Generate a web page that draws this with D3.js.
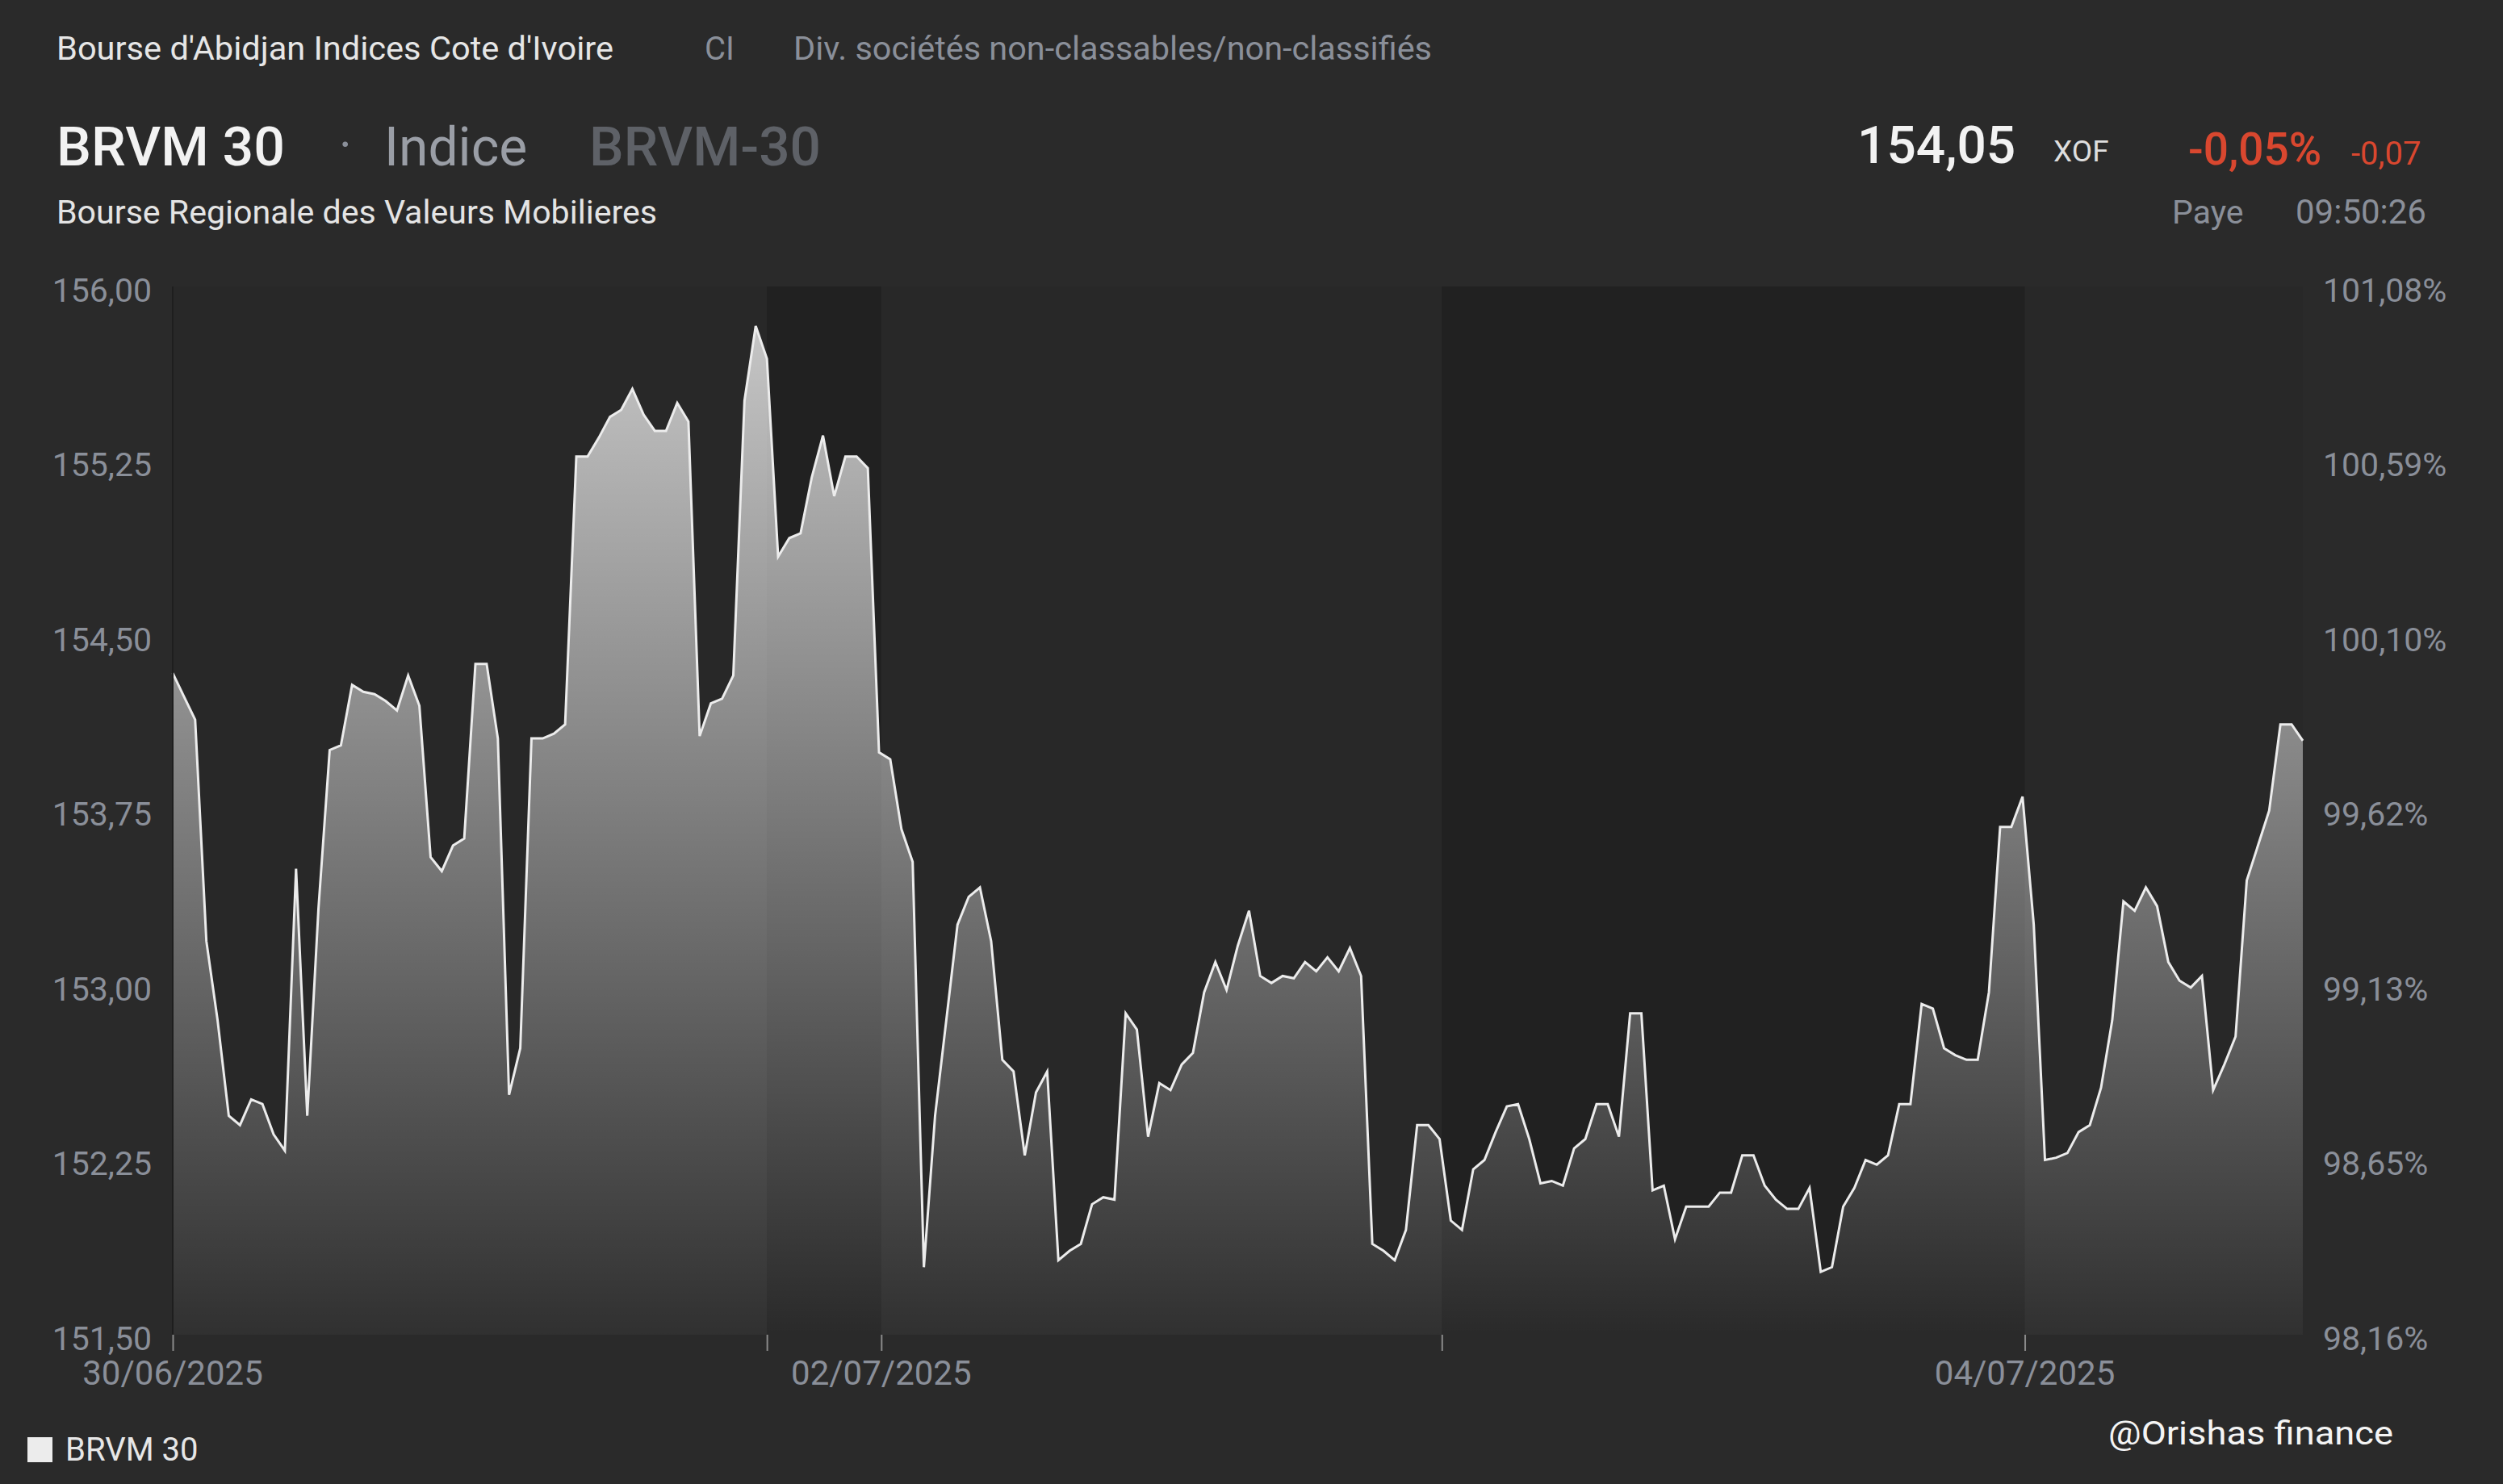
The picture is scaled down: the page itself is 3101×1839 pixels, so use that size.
<!DOCTYPE html>
<html>
<head>
<meta charset="utf-8">
<script src="https://cdn.jsdelivr.net/npm/d3@7"></script>
<style>
  html, body { margin: 0; padding: 0; background: #2a2a2a; }
  svg { display: block; }
  text { font-family: Roboto, "Noto Sans", sans-serif; }
</style>
</head>
<body>
<svg id="chart" width="3101" height="1839"></svg>
<script>
// BRVM 30 intraday closes, 30/06/2025 – 04/07/2025 (one value per sample)
const prices = [
  154.34,154.24,154.14,153.19,152.85,152.44,152.40,152.51,152.49,152.36,
  152.29,153.50,152.44,153.33,154.01,154.03,154.29,154.26,154.25,154.22,
  154.18,154.33,154.20,153.55,153.49,153.60,153.63,154.38,154.38,154.06,
  152.53,152.73,154.06,154.06,154.08,154.12,155.27,155.27,155.35,155.44,
  155.47,155.56,155.45,155.38,155.38,155.50,155.42,154.07,154.21,154.23,
  154.33,155.51,155.83,155.69,154.84,154.92,154.94,155.18,155.36,155.10,
  155.27,155.27,155.22,154.00,153.97,153.67,153.53,151.79,152.44,152.85,
  153.26,153.38,153.42,153.19,152.68,152.63,152.27,152.54,152.63,151.82,
  151.86,151.89,152.06,152.09,152.08,152.88,152.81,152.35,152.58,152.55,
  152.66,152.71,152.97,153.10,152.98,153.17,153.32,153.04,153.01,153.04,
  153.03,153.10,153.06,153.12,153.06,153.16,153.04,151.89,151.86,151.82,
  151.95,152.40,152.40,152.34,151.99,151.95,152.21,152.25,152.37,152.48,
  152.49,152.34,152.15,152.16,152.14,152.30,152.34,152.49,152.49,152.35,
  152.88,152.88,152.12,152.14,151.91,152.05,152.05,152.05,152.11,152.11,
  152.27,152.27,152.14,152.08,152.04,152.04,152.13,151.77,151.79,152.05,
  152.13,152.25,152.23,152.27,152.49,152.49,152.92,152.90,152.73,152.70,
  152.68,152.68,152.97,153.68,153.68,153.81,153.26,152.25,152.26,152.28,
  152.37,152.40,152.56,152.85,153.36,153.32,153.42,153.34,153.10,153.02,
  152.99,153.04,152.55,152.66,152.78,153.45,153.60,153.75,154.12,154.12,
  154.05
];

// Price axis
const priceTicks = [151.50, 152.25, 153.00, 153.75, 154.50, 155.25, 156.00];
const pctTickLabels = ["98,16%", "98,65%", "99,13%", "99,62%", "100,10%", "100,59%", "101,08%"];

// Time axis, expressed in sample positions
const timeTicks = [0, 53.0, 63.2, 113.2, 165.2];
const dateLabels = [
  { pos: 0, label: "30/06/2025" },
  { pos: 63.2, label: "02/07/2025" },
  { pos: 165.2, label: "04/07/2025" }
];
// Closed-market periods shaded on the plot
const closedPeriods = [[53.0, 63.2], [113.2, 165.2]];

// Header
const exchangeLine = "Bourse d'Abidjan Indices Cote d'Ivoire";
const countryCode = "CI";
const sectorName = "Div. sociétés non-classables/non-classifiés";
const instrumentName = "BRVM 30";
const instrumentType = "Indice";
const ticker = "BRVM-30";
const marketName = "Bourse Regionale des Valeurs Mobilieres";
const lastPrice = "154,05";
const currency = "XOF";
const changePct = "-0,05%";
const changeAbs = "-0,07";
const quoteSource = "Paye";
const quoteTime = "09:50:26";
const seriesName = "BRVM 30";
const credit = "@Orishas finance";

const svg = d3.select("#chart");
const W = 3101, H = 1839;
const plot = { left: 214, right: 2853, top: 355, bottom: 1654 };

svg.append("rect").attr("width", W).attr("height", H).attr("fill", "#2a2a2a");

const x = d3.scaleLinear().domain([0, prices.length - 1]).range([plot.left, plot.right]);
const y = d3.scaleLinear().domain([151.5, 156]).range([plot.bottom, plot.top]);

// plot background
svg.append("rect")
  .attr("x", plot.left).attr("y", plot.top)
  .attr("width", plot.right - plot.left).attr("height", plot.bottom - plot.top)
  .attr("fill", "#282828");

// closed periods
svg.append("g").selectAll("rect").data(closedPeriods).join("rect")
  .attr("x", d => x(d[0]))
  .attr("y", plot.top)
  .attr("width", d => x(d[1]) - x(d[0]))
  .attr("height", plot.bottom - plot.top)
  .attr("fill", "#212121");

// area gradient
const defs = svg.append("defs");
const grad = defs.append("linearGradient")
  .attr("id", "areaFill")
  .attr("gradientUnits", "userSpaceOnUse")
  .attr("x1", 0).attr("x2", 0)
  .attr("y1", plot.top).attr("y2", plot.bottom);
grad.append("stop").attr("offset", 0).attr("stop-color", "#ffffff").attr("stop-opacity", 0.76);
grad.append("stop").attr("offset", 1).attr("stop-color", "#ffffff").attr("stop-opacity", 0.04);

const area = d3.area()
  .x((d, i) => x(i))
  .y0(y(151.5))
  .y1(d => y(d));
const line = d3.line()
  .x((d, i) => x(i))
  .y(d => y(d));

svg.append("path").datum(prices)
  .attr("d", area)
  .attr("fill", "url(#areaFill)");

svg.append("path").datum(prices)
  .attr("d", line)
  .attr("fill", "none")
  .attr("stroke", "#ececec")
  .attr("stroke-width", 3)
  .attr("stroke-linejoin", "miter");

// left edge line
svg.append("line")
  .attr("x1", plot.left).attr("x2", plot.left)
  .attr("y1", plot.top).attr("y2", plot.bottom)
  .attr("stroke", "#1e1e1e").attr("stroke-width", 2);

const axisGrey = "#8a8f99";
const fmt = v => d3.format(".2f")(v).replace(".", ",");

// left price axis
const leftAxis = d3.axisLeft(y).tickValues(priceTicks).tickFormat(fmt).tickSize(0).tickPadding(0);
const gL = svg.append("g").attr("transform", `translate(188,0)`).call(leftAxis);
gL.select(".domain").remove();
gL.selectAll("text")
  .attr("fill", axisGrey)
  .attr("font-size", 41)
  .attr("font-family", "Roboto, sans-serif")
  .attr("dy", "0.45em");

// right percentage axis
const rightAxis = d3.axisRight(y).tickValues(priceTicks)
  .tickFormat((d, i) => pctTickLabels[i]).tickSize(0).tickPadding(0);
const gR = svg.append("g").attr("transform", `translate(2878,0)`).call(rightAxis);
gR.select(".domain").remove();
gR.selectAll("text")
  .attr("fill", axisGrey)
  .attr("font-size", 41)
  .attr("font-family", "Roboto, sans-serif")
  .attr("dy", "0.45em");

// time axis ticks
const bottomAxis = d3.axisBottom(x).tickValues(timeTicks).tickFormat("").tickSize(20);
const gB = svg.append("g").attr("transform", `translate(0,${plot.bottom})`).call(bottomAxis);
gB.select(".domain").remove();
gB.selectAll("line").attr("stroke", "#8a8a8a").attr("stroke-width", 2);

svg.append("g").selectAll("text").data(dateLabels).join("text")
  .attr("x", d => x(d.pos))
  .attr("y", 1716)
  .attr("text-anchor", "middle")
  .attr("font-size", 42)
  .attr("fill", axisGrey)
  .text(d => d.label);

// header
const hdr = svg.append("g");
function txt(s, px, py, size, color, weight, width) {
  const t = hdr.append("text")
    .attr("x", px).attr("y", py)
    .attr("font-size", size)
    .attr("fill", color)
    .attr("font-weight", weight || 400)
    .text(s);
  if (width) t.attr("textLength", width).attr("lengthAdjust", "spacingAndGlyphs");
  return t;
}
txt(exchangeLine, 70, 74, 40, "#e6e6e6", 400, 690);
txt(countryCode, 873, 74, 40, axisGrey);
txt(sectorName, 983, 74, 40, axisGrey, 400, 791);

txt(instrumentName, 70, 205, 67, "#f2f2f2", 500, 283);
txt("·", 420, 200, 60, axisGrey);
txt(instrumentType, 476, 205, 66, "#9a9ea6");
txt(ticker, 730, 205, 67, "#5e6167", 500, 287);
txt(marketName, 70, 277, 40, "#e4e4e4", 400, 744);

txt(lastPrice, 2301, 202, 64, "#f2f2f2", 500);
txt(currency, 2544, 200, 37, "#dedede");
txt(changePct, 2711, 204, 55, "#d9472f", 500);
txt(changeAbs, 2913, 204, 40, "#d9472f");
txt(quoteSource, 2691, 277, 41, axisGrey);
txt(quoteTime, 2844, 277, 42, axisGrey);

// legend
svg.append("rect").attr("x", 34).attr("y", 1781).attr("width", 31).attr("height", 31).attr("fill", "#ececec");
svg.append("text").attr("x", 81).attr("y", 1810).attr("font-size", 40).attr("fill", "#e6e6e6").text(seriesName);

// credit
svg.append("text")
  .attr("x", 2612).attr("y", 1790)
  .attr("font-family", "Lato, 'Open Sans', sans-serif")
  .attr("font-size", 40)
  .attr("fill", "#f4f4f4")
  .attr("textLength", 353)
  .attr("lengthAdjust", "spacingAndGlyphs")
  .text(credit);
</script>
</body>
</html>
